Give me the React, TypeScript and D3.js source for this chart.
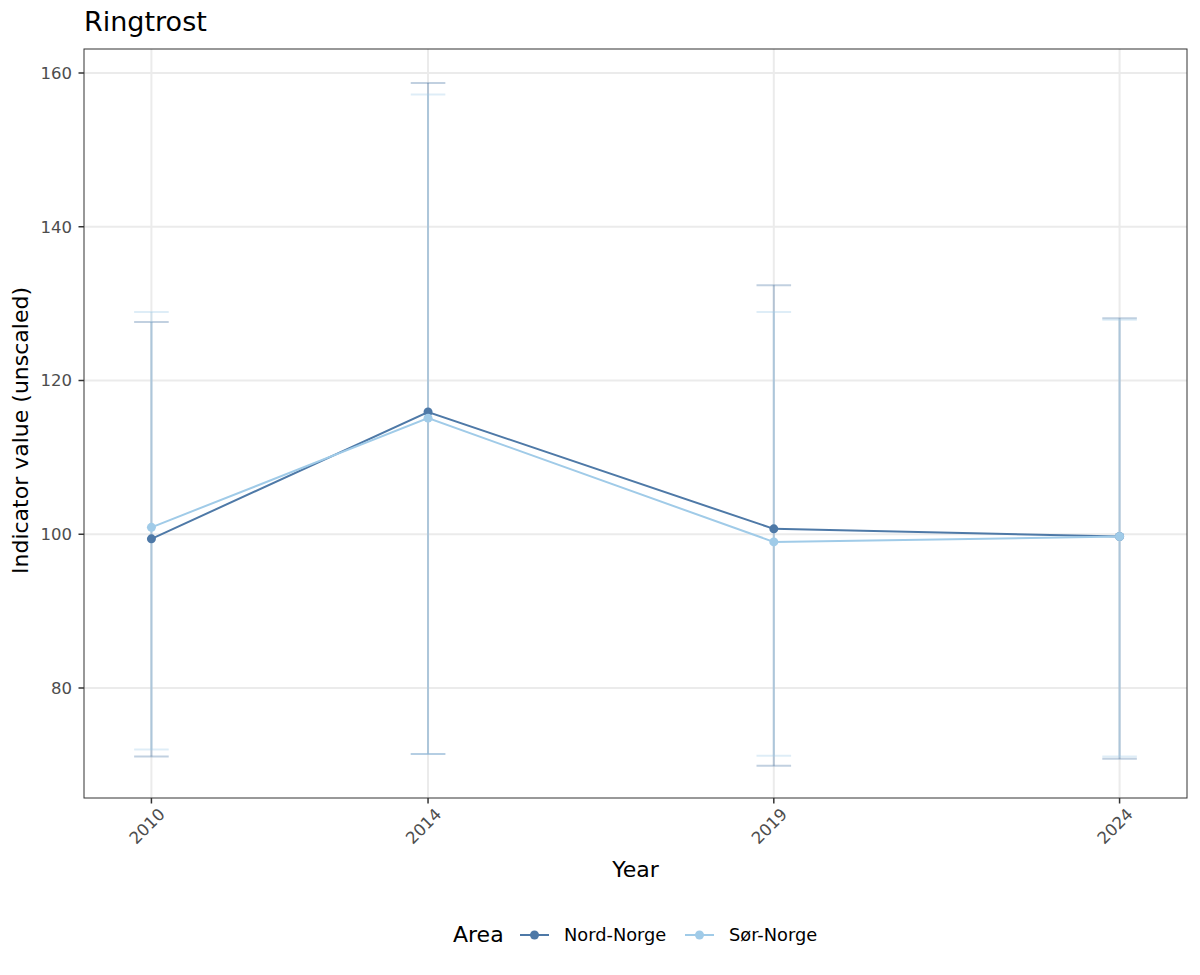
import React from "react";
import * as d3 from "d3";

const years = [2010, 2014, 2019, 2024];
const areas = ["Nord-Norge", "Sør-Norge"];
const colors = ["#4E79A7", "#A0CBE8"];
const nordValues = [99.4, 115.9, 100.7, 99.7];
const nordLow = [71.1, 71.4, 69.9, 70.8];
const nordHigh = [127.6, 158.7, 132.4, 128.1];
const sorValues = [100.9, 115.1, 99.0, 99.7];
const sorLow = [72.0, 71.4, 71.2, 71.1];
const sorHigh = [128.9, 157.2, 128.9, 127.9];
const yTicks = [80, 100, 120, 140, 160];

const series = [
  { name: areas[0], color: colors[0], values: nordValues, low: nordLow, high: nordHigh },
  { name: areas[1], color: colors[1], values: sorValues, low: sorLow, high: sorHigh },
];

export default function App() {
  const W = 1200, H = 975;
  const left = 84, right = 1187, top = 49, bottom = 798;
  const capHalf = 0.25;
  const xMin = d3.min(years)! - capHalf, xMax = d3.max(years)! + capHalf;
  const xPad = (xMax - xMin) * 0.05;
  const x = d3.scaleLinear().domain([xMin - xPad, xMax + xPad]).range([left, right]);
  const pxPerUnit = (688 - 73) / 80;
  const y = d3.scaleLinear()
    .domain([160 + (73 - top) / pxPerUnit, 80 - (bottom - 688) / pxPerUnit])
    .range([top, bottom]);
  const line = d3.line<number>().x((_, i) => x(years[i])).y((v) => y(v));
  const font = "DejaVu Sans, sans-serif";

  return (
    <svg width={W} height={H} style={{ position: "absolute", left: 0, top: 0, background: "#fff" }} fontFamily={font}>
      <rect x={0} y={0} width={W} height={H} fill="#fff" />
      <text x={84} y={31} fontSize={27} fill="#000">Ringtrost</text>
      {/* grid */}
      {yTicks.map((t) => (
        <line key={"gy" + t} x1={left} x2={right} y1={y(t)} y2={y(t)} stroke="#ebebeb" strokeWidth={2} />
      ))}
      {years.map((t) => (
        <line key={"gx" + t} x1={x(t)} x2={x(t)} y1={top} y2={bottom} stroke="#ebebeb" strokeWidth={2} />
      ))}
      {/* error bars */}
      {series.map((s) => (
        <g key={"eb" + s.name} stroke={s.color} strokeOpacity={0.35} strokeWidth={2} fill="none">
          {years.map((yr, i) => (
            <g key={yr}>
              <line x1={x(yr)} x2={x(yr)} y1={y(s.low[i])} y2={y(s.high[i])} />
              <line x1={x(yr - capHalf)} x2={x(yr + capHalf)} y1={y(s.low[i])} y2={y(s.low[i])} />
              <line x1={x(yr - capHalf)} x2={x(yr + capHalf)} y1={y(s.high[i])} y2={y(s.high[i])} />
            </g>
          ))}
        </g>
      ))}
      {/* lines and points */}
      {series.map((s) => (
        <g key={"ln" + s.name}>
          <path d={line(s.values)!} fill="none" stroke={s.color} strokeWidth={2} />
          {s.values.map((v, i) => (
            <circle key={i} cx={x(years[i])} cy={y(v)} r={4.5} fill={s.color} />
          ))}
        </g>
      ))}
      {/* panel border */}
      <rect x={left} y={top} width={right - left} height={bottom - top} fill="none" stroke="#333333" strokeWidth={1} />
      {/* y axis */}
      {yTicks.map((t) => (
        <g key={"yt" + t}>
          <line x1={left - 5.5} x2={left} y1={y(t)} y2={y(t)} stroke="#333" strokeWidth={1.5} />
          <text x={left - 12} y={y(t)} dy="0.36em" textAnchor="end" fontSize={16.5} fill="#4d4d4d">{t}</text>
        </g>
      ))}
      {/* x axis */}
      {years.map((t) => (
        <g key={"xt" + t}>
          <line x1={x(t)} x2={x(t)} y1={bottom} y2={bottom + 5.5} stroke="#333" strokeWidth={1.5} />
          <text transform={`translate(${x(t) + 6},${bottom + 9}) rotate(-45)`} textAnchor="end" dy="0.72em" fontSize={16.5} fill="#4d4d4d">{t}</text>
        </g>
      ))}
      <text x={(left + right) / 2} y={877} textAnchor="middle" fontSize={22} fill="#000">Year</text>
      <text transform={`translate(28,${(top + bottom) / 2 + 7}) rotate(-90)`} textAnchor="middle" fontSize={22} fill="#000">Indicator value (unscaled)</text>
      {/* legend */}
      <text x={453} y={942} fontSize={22} fill="#000">Area</text>
      {series.map((s, i) => {
        const lx = i === 0 ? 520 : 685;
        return (
          <g key={"lg" + s.name}>
            <line x1={lx} x2={lx + 29} y1={935} y2={935} stroke={s.color} strokeWidth={2} />
            <circle cx={lx + 14.5} cy={935} r={4.5} fill={s.color} />
            <text x={lx + 44} y={935} dy="0.36em" fontSize={17.8} fill="#000">{s.name}</text>
          </g>
        );
      })}
    </svg>
  );
}
